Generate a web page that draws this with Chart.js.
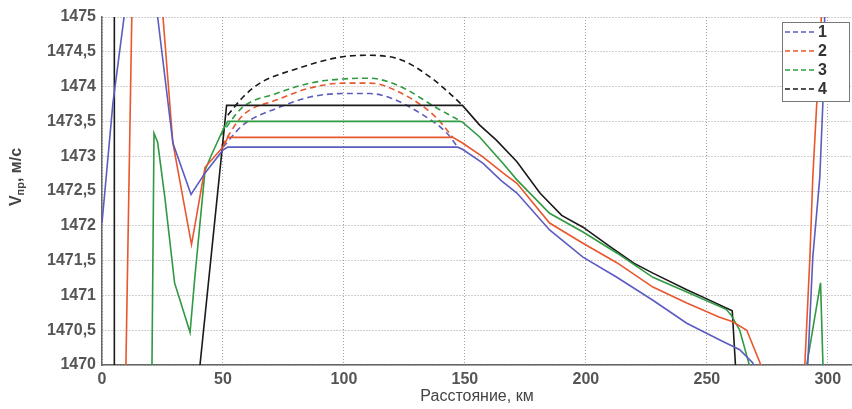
<!DOCTYPE html>
<html>
<head>
<meta charset="utf-8">
<script src="https://cdn.jsdelivr.net/npm/chart.js@4/dist/chart.umd.min.js"></script>
<style>
  body { margin: 0; background: #fff; }
  #wrap { width: 852px; height: 409px; }
</style>
</head>
<body>
<div id="wrap"><canvas id="vChart"></canvas></div>
<script>
// данные: [расстояние, км ; скорость, м/с]

const seriesLabels = ["1", "2", "3", "4"];
const seriesColors = ["#5c5cc0", "#e8572e", "#2f9a40", "#1a1a1a"];

const xTicks = [0, 50, 100, 150, 200, 250, 300];
const yTicks = [1470, 1470.5, 1471, 1471.5, 1472, 1472.5, 1473, 1473.5, 1474, 1474.5, 1475];

// сплошные линии
const solid1 = [
  [0, 1472.04], [4.5, 1473.76], [9.5, 1475.1], [16, 1478], [23, 1475],
  [29.3, 1473.19], [36.8, 1472.45], [42.6, 1472.76], [50, 1473.09], [52, 1473.13],
  [147, 1473.13], [149, 1473.1], [157.4, 1472.9], [165, 1472.65], [171.5, 1472.47],
  [185, 1471.94], [198.8, 1471.55], [212.8, 1471.26], [227.7, 1470.93], [241.7, 1470.6],
  [255.4, 1470.36], [263.6, 1470.22], [269, 1470.03], [280, 1468.5], [291.7, 1470],
  [293.8, 1471.55], [296.7, 1472.7], [298, 1473.8], [298.7, 1475], [299.5, 1476]
];
const solid2 = [
  [9.4, 1469], [12.8, 1476], [19, 1479], [25.2, 1475], [29.3, 1473.19],
  [37, 1471.73], [42.6, 1472.84], [50, 1473.13], [52, 1473.27], [145, 1473.27],
  [149, 1473.19], [157.4, 1472.99], [165.7, 1472.76], [171.5, 1472.61], [185, 1472.04],
  [198.8, 1471.75], [212.8, 1471.47], [227.7, 1471.12], [241.7, 1470.89], [255, 1470.69],
  [260.7, 1470.62], [266.5, 1470.5], [272, 1470.03], [280, 1468.5], [290.5, 1470],
  [292.6, 1471.55], [293.8, 1472.7], [295.5, 1473.8], [297.5, 1475.1], [298.3, 1476]
];
const solid3 = [
  [20.4, 1469], [21.5, 1473.33], [23, 1473.2], [26, 1472.4], [30, 1471.18],
  [36.4, 1470.47], [38.4, 1471.27], [42.6, 1472.8], [45, 1473], [50, 1473.38],
  [52, 1473.5], [148, 1473.5], [149, 1473.49], [156, 1473.28], [165.7, 1472.9],
  [171.5, 1472.66], [185, 1472.18], [198.8, 1471.91], [212.8, 1471.61], [227.7, 1471.26],
  [241.7, 1471.05], [258, 1470.8], [260, 1470.72], [263.6, 1470.5], [267, 1470.07],
  [280, 1468.5], [291.3, 1470], [297, 1471.18], [298, 1470], [298.5, 1469]
];
const solid4 = [
  [5.05, 1468], [5.1, 1477], [20, null],
  [38, 1469.15], [51.5, 1473.73], [149, 1473.73], [156, 1473.45], [163, 1473.23],
  [171.5, 1472.92], [181, 1472.47], [190, 1472.15], [198.8, 1471.98], [210, 1471.7],
  [220, 1471.46], [227.7, 1471.32], [241.7, 1471.08], [250, 1470.95], [258, 1470.82],
  [260.5, 1470.78], [262, 1469.9], [262.2, 1469]
];

// пунктирные линии
const dashed1 = [
  [50, 1473.13], [58.3, 1473.45], [72.3, 1473.69], [86, 1473.85], [99.6, 1473.9],
  [110.7, 1473.9], [119, 1473.84], [131.4, 1473.62], [142.6, 1473.33], [147, 1473.13]
];
const dashed2 = [
  [49.5, 1473.15], [58.3, 1473.59], [72.3, 1473.81], [86, 1473.98], [99.6, 1474.05],
  [110.7, 1474.05], [124, 1473.9], [138, 1473.56], [145, 1473.27]
];
const dashed3 = [
  [49, 1473.3], [58, 1473.7], [72, 1473.9], [86, 1474.05], [99.6, 1474.11],
  [110.7, 1474.12], [124, 1473.99], [138, 1473.7], [148.5, 1473.5]
];
const dashed4 = [
  [52, 1473.59], [58.3, 1473.85], [65.3, 1474.05], [79, 1474.24], [99.6, 1474.43],
  [110.7, 1474.45], [124, 1474.38], [135.5, 1474.14], [143.8, 1473.9], [149, 1473.73]
];

const solids = [solid1, solid2, solid3, solid4];
const dasheds = [dashed1, dashed2, dashed3, dashed4];

const toPoints = (arr) => arr.map(([x, y]) => ({ x, y }));

const datasets = [];
solids.forEach((s, i) => {
  datasets.push({
    label: seriesLabels[i],
    data: toPoints(s),
    borderColor: seriesColors[i],
    borderWidth: 1.6,
    pointRadius: 0,
    tension: 0,
    spanGaps: false
  });
});
dasheds.forEach((s, i) => {
  datasets.push({
    label: seriesLabels[i] + "d",
    data: toPoints(s),
    borderColor: seriesColors[i],
    borderWidth: 1.6,
    borderDash: [6, 4],
    pointRadius: 0,
    cubicInterpolationMode: "monotone"
  });
});

const fontFam = "'Liberation Sans', Arial, sans-serif";

// легенда в углу графика
const legendBox = {
  id: "legendBox",
  afterDatasetsDraw(chart) {
    const { ctx, chartArea } = chart;
    const x = chartArea.right - 70;
    const y = chartArea.top + 5;
    ctx.save();
    ctx.fillStyle = "#fff";
    ctx.fillRect(x, y, 68, 80);
    ctx.strokeStyle = "#777";
    ctx.lineWidth = 1;
    ctx.strokeRect(x + 0.5, y + 0.5, 67, 79);
    ctx.font = "bold 16px " + fontFam;
    ctx.textBaseline = "middle";
    seriesLabels.forEach((lab, i) => {
      const ry = y + 10 + i * 19;
      ctx.strokeStyle = seriesColors[i];
      ctx.lineWidth = 1.6;
      ctx.setLineDash([5, 3]);
      ctx.beginPath();
      ctx.moveTo(x + 3, ry);
      ctx.lineTo(x + 33, ry);
      ctx.stroke();
      ctx.setLineDash([]);
      ctx.fillStyle = "#333";
      ctx.fillText(lab, x + 36, ry + 1);
    });
    ctx.restore();
  }
};

// подпись оси Y с нижним индексом
const yTitle = {
  id: "yTitle",
  afterDraw(chart) {
    const { ctx } = chart;
    const big = "bold 16px " + fontFam;
    const small = "bold 11px " + fontFam;
    const parts = [["V", big, 0], ["пр", small, 4], [", м/с", big, 0]];
    ctx.save();
    ctx.translate(17, 177);
    ctx.rotate(-Math.PI / 2);
    let total = 0;
    parts.forEach(([t, f]) => { ctx.font = f; total += ctx.measureText(t).width; });
    let px = -total / 2;
    ctx.fillStyle = "#444";
    ctx.textBaseline = "middle";
    parts.forEach(([t, f, dy]) => {
      ctx.font = f;
      ctx.fillText(t, px, dy);
      px += ctx.measureText(t).width;
    });
    ctx.restore();
  }
};

const config = {
  type: "line",
  data: { datasets },
  options: {
    responsive: true,
    maintainAspectRatio: false,
    animation: false,
    layout: { padding: { top: 17, right: 0, left: 0, bottom: 0 } },
    plugins: {
      legend: { display: false },
      tooltip: { enabled: false }
    },
    scales: {
      x: {
        type: "linear",
        min: 0,
        max: 310,
        afterBuildTicks: (scale) => { scale.ticks = xTicks.map((v) => ({ value: v })); },
        afterFit: (scale) => { scale.height = 44; },
        ticks: {
          padding: 5,
          color: "#555",
          font: { family: fontFam, size: 16, weight: "bold" }
        },
        grid: { color: "#a0a0a0", borderDash: [1, 2], drawTicks: false },
        border: { display: true, color: "#666", width: 1.5, dash: [1, 2] },
        title: {
          display: true,
          text: "Расстояние, км",
          color: "#444",
          padding: { top: 0, bottom: 3 },
          font: { family: fontFam, size: 16 }
        }
      },
      y: {
        min: 1470,
        max: 1475,
        afterBuildTicks: (scale) => { scale.ticks = yTicks.map((v) => ({ value: v })); },
        afterFit: (scale) => { scale.width = 102; },
        ticks: {
          padding: 6,
          color: "#555",
          font: { family: fontFam, size: 16, weight: "bold" },
          callback: (v) => String(v).replace(".", ",")
        },
        grid: { color: "#a0a0a0", drawTicks: false },
        border: { display: true, color: "#666", width: 1.5, dash: [1, 2] }
      }
    }
  },
  plugins: [legendBox, yTitle]
};

new Chart(document.getElementById("vChart").getContext("2d"), config);
</script>
</body>
</html>
